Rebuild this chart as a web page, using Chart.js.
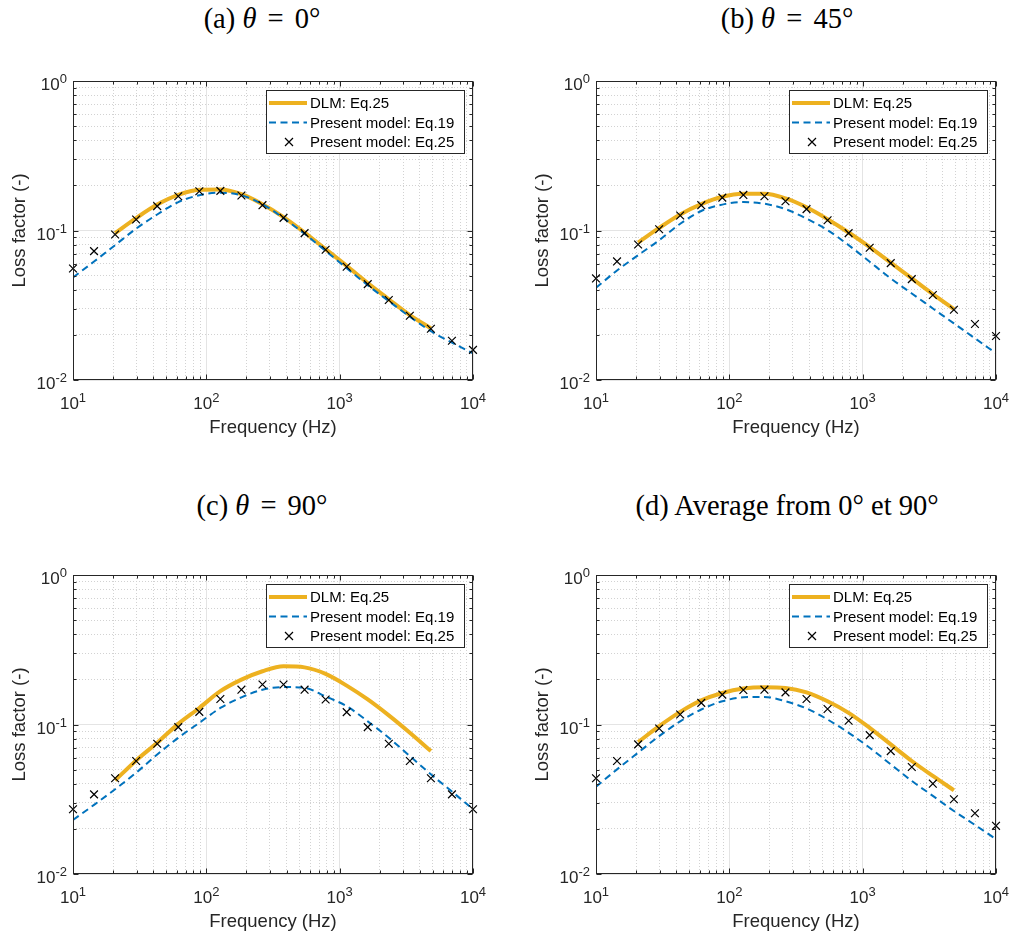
<!DOCTYPE html>
<html>
<head>
<meta charset="utf-8">
<script src="https://cdn.jsdelivr.net/npm/chart.js@4.4.1/dist/chart.umd.min.js"></script>
<style>
  body { margin:0; background:#fff; width:1010px; height:937px; position:relative; overflow:hidden; }
  .panel { position:absolute; width:500px; height:400px; }
  .ttl { position:absolute; font-family:"Liberation Serif","Times New Roman",serif; font-size:28.5px; color:#000;
         white-space:nowrap; transform:translate(-50%,-50%); }
  .ttl .eq { margin:0 4px; }
</style>
</head>
<body>
<div class="ttl" style="left:262px;top:19px">(a) <i>θ</i> <span class="eq">=</span> 0°</div>
<div class="ttl" style="left:787px;top:19px">(b) <i>θ</i> <span class="eq">=</span> 45°</div>
<div class="ttl" style="left:262px;top:506px">(c) <i>θ</i> <span class="eq">=</span> 90°</div>
<div class="ttl" style="left:787px;top:506px">(d) Average from 0° et 90°</div>

<div class="panel" style="left:0;top:40px"><canvas id="chartA"></canvas></div>
<div class="panel" style="left:523px;top:40px"><canvas id="chartB"></canvas></div>
<div class="panel" style="left:0;top:534px"><canvas id="chartC"></canvas></div>
<div class="panel" style="left:523px;top:534px"><canvas id="chartD"></canvas></div>

<script>
// frequencies (Hz)
var freq = [10, 14.38, 20.69, 29.76, 42.81, 61.58, 88.59, 127.4, 183.3, 263.7,
            379.3, 545.6, 784.8, 1129, 1624, 2336, 3360, 4833, 6952, 10000];
var dlmFreq = [20.69, 29.76, 42.81, 61.58, 88.59, 127.4, 183.3, 263.7,
               379.3, 545.6, 784.8, 1129, 1624, 2336, 3360, 4833];

// (a) theta = 0
var dlmA  = [0.096, 0.121, 0.149, 0.173, 0.187, 0.188, 0.175, 0.150, 0.123, 0.097, 0.075, 0.058, 0.0445, 0.0347, 0.0272, 0.0222];
var eq19A = [0.0485, 0.062, 0.0798, 0.103, 0.128, 0.155, 0.172, 0.179, 0.172, 0.150, 0.121, 0.095, 0.073, 0.056, 0.0430, 0.0337, 0.0265, 0.0212, 0.0178, 0.0151];
var eq25A = [0.0557, 0.0728, 0.094, 0.1184, 0.1455, 0.1696, 0.183, 0.184, 0.1714, 0.1477, 0.1215, 0.096, 0.0743, 0.0572, 0.0438, 0.0343, 0.0269, 0.0220, 0.0183, 0.0159];

// (b) theta = 45
var dlmB  = [0.083, 0.104, 0.128, 0.150, 0.168, 0.176, 0.176, 0.164, 0.143, 0.119, 0.097, 0.0775, 0.061, 0.0478, 0.0375, 0.0298];
var eq19B = [0.0414, 0.054, 0.0684, 0.0861, 0.111, 0.135, 0.149, 0.155, 0.151, 0.139, 0.120, 0.1005, 0.0798, 0.0618, 0.0478, 0.0379, 0.0301, 0.0239, 0.019, 0.0151];
var eq25B = [0.0478, 0.0621, 0.0806, 0.102, 0.126, 0.1477, 0.166, 0.173, 0.1696, 0.157, 0.139, 0.117, 0.096, 0.0766, 0.0605, 0.0473, 0.037, 0.0295, 0.0237, 0.0197];

// (c) theta = 90
var dlmC  = [0.0423, 0.0575, 0.0755, 0.101, 0.129, 0.167, 0.1995, 0.227, 0.245, 0.241, 0.218, 0.182, 0.147, 0.115, 0.088, 0.0664];
var eq19C = [0.0230, 0.029, 0.0369, 0.0476, 0.063, 0.0815, 0.1026, 0.129, 0.152, 0.171, 0.178, 0.176, 0.154, 0.1325, 0.105, 0.0815, 0.0615, 0.0464, 0.0356, 0.0271];
var eq25C = [0.0271, 0.0341, 0.0437, 0.057, 0.0743, 0.096, 0.1215, 0.148, 0.171, 0.185, 0.185, 0.171, 0.147, 0.121, 0.096, 0.0743, 0.057, 0.0437, 0.0341, 0.0271];

// (d) average
var dlmD  = [0.0762, 0.0975, 0.1215, 0.145, 0.1625, 0.174, 0.1775, 0.1755, 0.164, 0.143, 0.1197, 0.095, 0.0736, 0.057, 0.0453, 0.0363];
var eq19D = [0.0384, 0.0501, 0.0648, 0.0836, 0.105, 0.126, 0.143, 0.152, 0.153, 0.143, 0.128, 0.108, 0.088, 0.0699, 0.0541, 0.0419, 0.0333, 0.0264, 0.0213, 0.0171];
var eq25D = [0.0437, 0.057, 0.0736, 0.094, 0.1166, 0.1395, 0.1585, 0.170, 0.171, 0.164, 0.148, 0.127, 0.106, 0.0849, 0.0664, 0.052, 0.0402, 0.0316, 0.0255, 0.021];

var xMajor = [10, 100, 1000, 10000];
var yMajor = [0.01, 0.1, 1];
var seriesNames = ['DLM: Eq.25', 'Present model: Eq.19', 'Present model: Eq.25'];

var SANS = '"Liberation Sans", Arial, Helvetica, sans-serif';
var AXC = '#262626';

function minorOf(majors) {
    var out = [];
    for (var i = 0; i < majors.length - 1; i++) {
        for (var k = 2; k <= 9; k++) out.push(+(majors[i] * k).toPrecision(3));
    }
    return out;
}
var xMinor = minorOf(xMajor);
var yMinor = minorOf(yMajor);

function pts(xs, ys) {
    return xs.map(function(x, i){ return {x: x, y: ys[i]}; });
}

function setTicks(list) {
    return function(scale) {
        scale.ticks = list.map(function(v){ return {value: v}; });
    };
}

function drawPow(ctx, exp, x, yBase, align) {
    var base = '10', sup = String(exp);
    ctx.font = '17px ' + SANS;
    var wb = ctx.measureText(base).width;
    ctx.font = '13px ' + SANS;
    var ws = ctx.measureText(sup).width;
    var x0 = align === 'right' ? x - wb - ws : x - (wb + ws) / 2;
    ctx.textAlign = 'left';
    ctx.textBaseline = 'alphabetic';
    ctx.font = '17px ' + SANS;
    ctx.fillText(base, x0, yBase);
    ctx.font = '13px ' + SANS;
    ctx.fillText(sup, x0 + wb, yBase - 7);
}

// box, inward ticks, tick labels and legend (MATLAB look)
var matlabBox = {
    id: 'matlabBox',
    afterDraw: function(chart) {
        var ctx = chart.ctx, a = chart.chartArea;
        var sx = chart.scales.x, sy = chart.scales.y;
        var L = Math.round(a.left) + 0.5, R = Math.round(a.right) - 0.5;
        var T = Math.round(a.top) + 0.5, B = Math.round(a.bottom) - 0.5;
        ctx.save();
        ctx.strokeStyle = AXC;
        ctx.lineWidth = 1;
        ctx.setLineDash([]);

        function xt(v, len) {
            var p = Math.round(sx.getPixelForValue(v)) + 0.5;
            ctx.beginPath();
            ctx.moveTo(p, B); ctx.lineTo(p, B - len);
            ctx.moveTo(p, T); ctx.lineTo(p, T + len);
            ctx.stroke();
        }
        function yt(v, len) {
            var p = Math.round(sy.getPixelForValue(v)) + 0.5;
            ctx.beginPath();
            ctx.moveTo(L, p); ctx.lineTo(L + len, p);
            ctx.moveTo(R, p); ctx.lineTo(R - len, p);
            ctx.stroke();
        }
        xMinor.forEach(function(v){ xt(v, 3); });
        xMajor.forEach(function(v){ xt(v, 5); });
        yMinor.forEach(function(v){ yt(v, 3); });
        yMajor.forEach(function(v){ yt(v, 5); });
        ctx.strokeRect(L, T, R - L, B - T);

        // tick labels 10^n
        ctx.fillStyle = AXC;
        xMajor.forEach(function(v){
            drawPow(ctx, Math.round(Math.log10(v)), sx.getPixelForValue(v), a.bottom + 29, 'center');
        });
        yMajor.forEach(function(v){
            drawPow(ctx, Math.round(Math.log10(v)), a.left - 6, sy.getPixelForValue(v) + 9, 'right');
        });

        // legend
        var w = 198, h = 63;
        var bx = Math.round(a.right) - 9 - w, by = Math.round(a.top) + 9;
        ctx.fillStyle = '#fff';
        ctx.fillRect(bx, by, w, h);
        ctx.strokeStyle = AXC;
        ctx.strokeRect(bx + 0.5, by + 0.5, w, h);
        chart.data.datasets.forEach(function(ds, i) {
            var yy = by + 13 + i * 19.5;
            ctx.save();
            if (ds.showLine !== false) {
                ctx.strokeStyle = ds.borderColor;
                ctx.lineWidth = ds.borderWidth;
                ctx.setLineDash(ds.borderDash || []);
                ctx.beginPath();
                ctx.moveTo(bx + 3, yy); ctx.lineTo(bx + 41, yy);
                ctx.stroke();
            } else {
                ctx.strokeStyle = '#000';
                ctx.lineWidth = 1.2;
                ctx.beginPath();
                ctx.moveTo(bx + 19, yy - 4); ctx.lineTo(bx + 27, yy + 4);
                ctx.moveTo(bx + 27, yy - 4); ctx.lineTo(bx + 19, yy + 4);
                ctx.stroke();
            }
            ctx.restore();
            ctx.fillStyle = '#000';
            ctx.font = '15px ' + SANS;
            ctx.textAlign = 'left';
            ctx.textBaseline = 'middle';
            ctx.fillText(ds.label, bx + 44, yy + 1);
        });
        ctx.restore();
    }
};

function makeChart(id, dlm, eq19, eq25) {
    var ctx = document.getElementById(id).getContext('2d');
    return new Chart(ctx, {
        type: 'line',
        data: {
            datasets: [{
                label: seriesNames[0],
                data: pts(dlmFreq, dlm),
                borderColor: '#EDB120',
                borderWidth: 4,
                pointRadius: 0,
                fill: false,
                cubicInterpolationMode: 'monotone',
                order: 3
            }, {
                label: seriesNames[1],
                data: pts(freq, eq19),
                borderColor: '#0072BD',
                borderWidth: 2,
                borderDash: [7, 4.5],
                pointRadius: 0,
                fill: false,
                cubicInterpolationMode: 'monotone',
                order: 2
            }, {
                label: seriesNames[2],
                data: pts(freq, eq25),
                showLine: false,
                clip: false,
                pointStyle: 'crossRot',
                pointRadius: 5.5,
                borderColor: '#000',
                backgroundColor: '#000',
                pointBorderWidth: 1.2,
                order: 1
            }]
        },
        options: {
            responsive: true,
            maintainAspectRatio: false,
            animation: false,
            events: [],
            layout: { padding: { top: 41, right: 27, left: 0, bottom: 0 } },
            plugins: { legend: { display: false }, tooltip: { enabled: false } },
            scales: {
                x: {
                    type: 'logarithmic', position: 'bottom', min: 10, max: 10000,
                    afterBuildTicks: setTicks(xMajor),
                    afterFit: function(s){ s.height = 60; },
                    ticks: { display: false },
                    grid: { color: '#e4e4e4', lineWidth: 1, drawTicks: false },
                    border: { display: false },
                    title: { display: true, text: 'Frequency (Hz)', color: AXC,
                             font: { family: SANS, size: 18.5 }, padding: { top: 0, bottom: 1 } }
                },
                xm: {
                    type: 'logarithmic', position: 'bottom', min: 10, max: 10000,
                    afterBuildTicks: setTicks(xMinor),
                    afterFit: function(s){ s.height = 0; },
                    ticks: { display: false },
                    grid: { color: '#d2d2d2', lineWidth: 1, drawTicks: false },
                    border: { display: false, dash: [1, 2] }
                },
                y: {
                    type: 'logarithmic', position: 'left', min: 0.01, max: 1,
                    afterBuildTicks: setTicks(yMajor),
                    afterFit: function(s){ s.width = 73; },
                    ticks: { display: false },
                    grid: { color: '#e4e4e4', lineWidth: 1, drawTicks: false },
                    border: { display: false },
                    title: { display: true, text: 'Loss factor (-)', color: AXC,
                             font: { family: SANS, size: 18.5 }, padding: { top: 9, bottom: 0 } }
                },
                ym: {
                    type: 'logarithmic', position: 'left', min: 0.01, max: 1,
                    afterBuildTicks: setTicks(yMinor),
                    afterFit: function(s){ s.width = 0; },
                    ticks: { display: false },
                    grid: { color: '#d2d2d2', lineWidth: 1, drawTicks: false },
                    border: { display: false, dash: [1, 2] }
                }
            }
        },
        plugins: [matlabBox]
    });
}

makeChart('chartA', dlmA, eq19A, eq25A);
makeChart('chartB', dlmB, eq19B, eq25B);
makeChart('chartC', dlmC, eq19C, eq25C);
makeChart('chartD', dlmD, eq19D, eq25D);
</script>
</body>
</html>
